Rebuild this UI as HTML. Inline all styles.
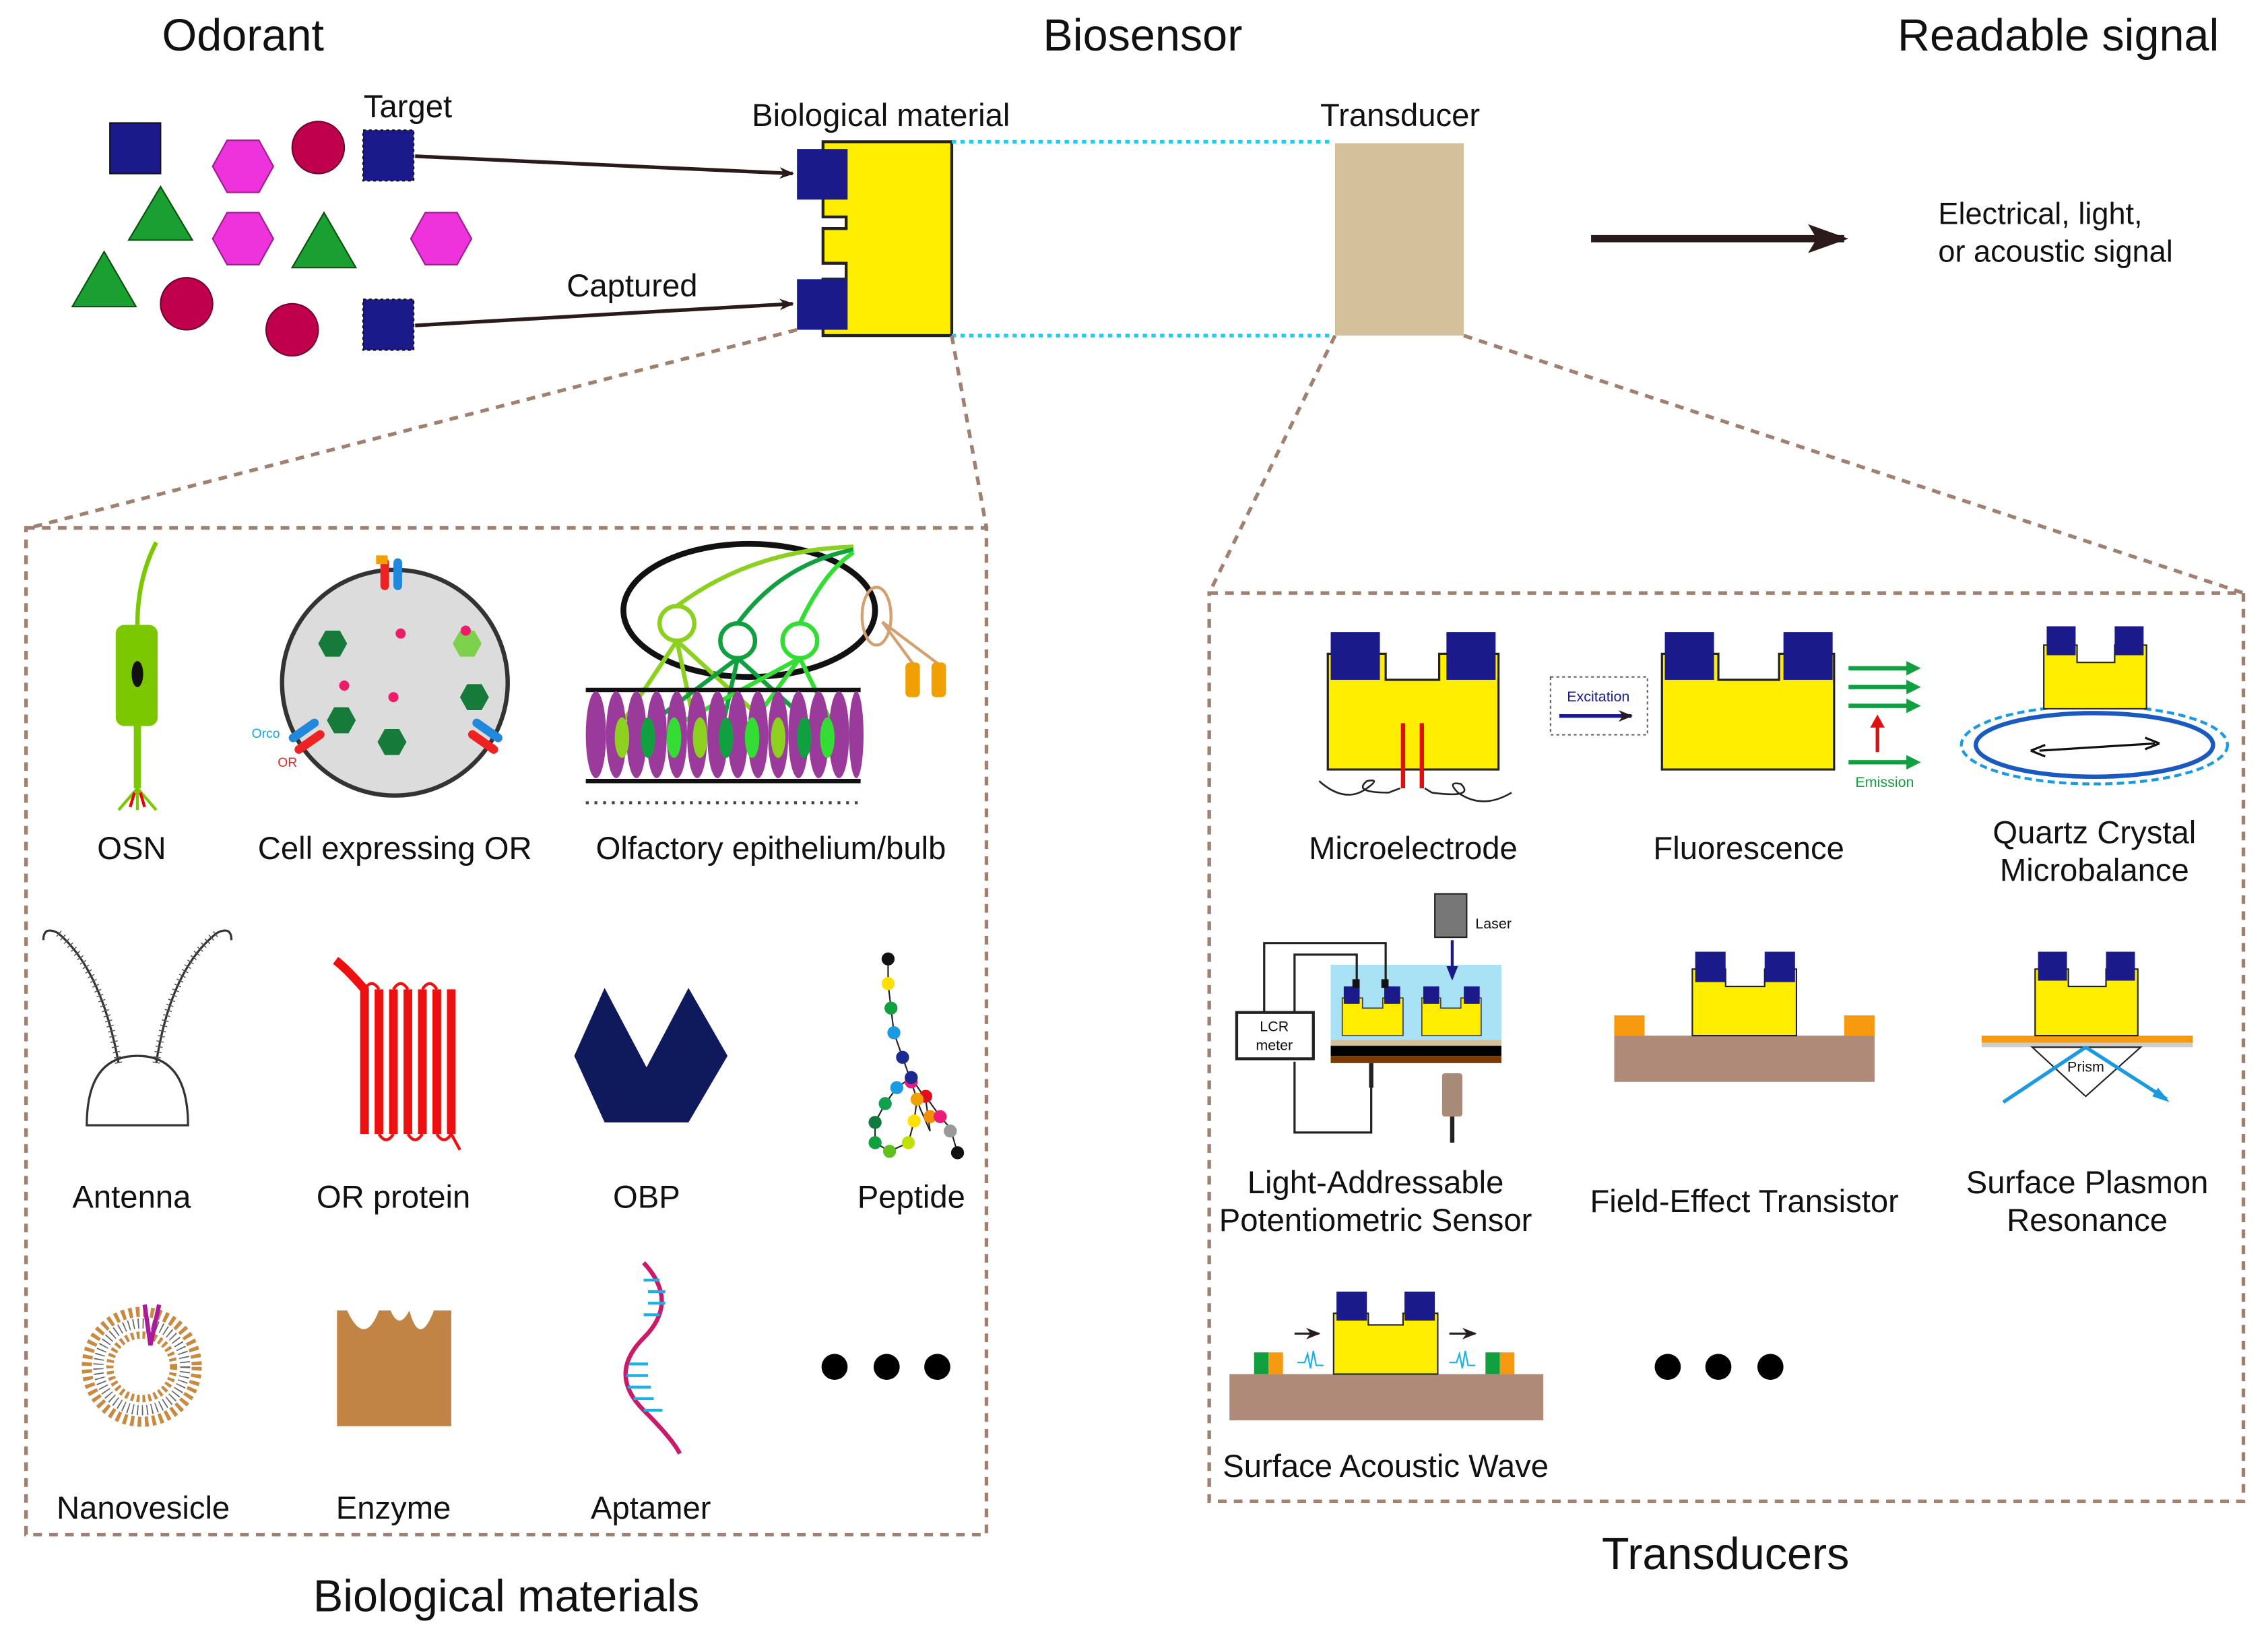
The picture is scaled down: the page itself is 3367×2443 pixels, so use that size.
<!DOCTYPE html>
<html><head><meta charset="utf-8"><style>
html,body{margin:0;padding:0;background:#fff}
svg{display:block}
text{font-family:"Liberation Sans",Arial,sans-serif;fill:#111}
</style></head><body>
<svg width="3367" height="2443" viewBox="0 0 1568 1138" preserveAspectRatio="none" xmlns="http://www.w3.org/2000/svg">
<defs>
<marker id="ah" markerWidth="10" markerHeight="8" refX="9" refY="4" orient="auto" markerUnits="userSpaceOnUse"><path d="M0,0 L10,4 L0,8 L3,4z" fill="#2a1a1a"/></marker>
</defs>
<!-- titles -->
<text x="168" y="35" font-size="31" text-anchor="middle">Odorant</text>
<text x="790" y="35" font-size="31" text-anchor="middle">Biosensor</text>
<text x="1423" y="35" font-size="31" text-anchor="middle">Readable signal</text>

<!-- odorants -->
<rect x="76" y="85" width="35" height="35" fill="#1a1a8a" stroke="#111" stroke-width="1"/>
<polygon points="147,115 157,97 179,97 189,115 179,133 157,133" fill="#ee33dd" stroke="#a01a90"/>
<circle cx="220" cy="102" r="18" fill="#c0004c" stroke="#700030"/>
<rect x="251" y="90" width="35" height="35" fill="#1a1a8a" stroke="#111" stroke-dasharray="2,2"/>
<polygon points="111,129 89,166 133,166" fill="#1aa030" stroke="#0a5010"/>
<polygon points="147,165 157,147 179,147 189,165 179,183 157,183" fill="#ee33dd" stroke="#a01a90"/>
<polygon points="224,147 202,185 246,185" fill="#1aa030" stroke="#0a5010"/>
<polygon points="284,165 294,147 316,147 326,165 316,183 294,183" fill="#ee33dd" stroke="#a01a90"/>
<polygon points="72,174 50,212 94,212" fill="#1aa030" stroke="#0a5010"/>
<circle cx="129" cy="210" r="18" fill="#c0004c" stroke="#700030"/>
<circle cx="202" cy="228" r="18" fill="#c0004c" stroke="#700030"/>
<rect x="251" y="207" width="35" height="35" fill="#1a1a8a" stroke="#111" stroke-dasharray="2,2"/>
<text x="282" y="81" font-size="22" text-anchor="middle">Target</text>
<text x="437" y="205" font-size="22" text-anchor="middle">Captured</text>
<line x1="287" y1="108" x2="548" y2="120" stroke="#2a1a1a" stroke-width="2.5" marker-end="url(#ah)"/>
<line x1="287" y1="225" x2="548" y2="210" stroke="#2a1a1a" stroke-width="2.5" marker-end="url(#ah)"/>

<!-- bio material -->
<text x="609" y="87" font-size="22" text-anchor="middle">Biological material</text>
<path d="M569,98 H658 V232 H569 V193 H585 V182 H569 V158 H585 V150 H569 Z" fill="#ffee00" stroke="#222" stroke-width="2"/>
<rect x="551" y="103" width="35" height="35" fill="#1a1a8a"/>
<rect x="551" y="193" width="35" height="35" fill="#1a1a8a"/>
<line x1="658" y1="98" x2="922" y2="98" stroke="#22ccee" stroke-width="2.5" stroke-dasharray="3,3"/>
<line x1="658" y1="232" x2="922" y2="232" stroke="#22ccee" stroke-width="2.5" stroke-dasharray="3,3"/>
<text x="968" y="87" font-size="22" text-anchor="middle">Transducer</text>
<rect x="923" y="99" width="89" height="133" fill="#d4c09a"/>
<line x1="1100" y1="165" x2="1275" y2="165" stroke="#2a1a1a" stroke-width="5"/>
<polygon points="1250,155 1278,165 1250,175 1256,165" fill="#2a1a1a"/>
<text x="1340" y="155" font-size="21">Electrical, light,</text>
<text x="1340" y="181" font-size="21">or acoustic signal</text>

<!-- dashed connectors -->
<g stroke="#a08070" stroke-width="2.5" stroke-dasharray="6,5" fill="none">
<line x1="551" y1="228" x2="20" y2="365"/>
<line x1="658" y1="232" x2="682" y2="365"/>
<line x1="923" y1="232" x2="836" y2="410"/>
<line x1="1012" y1="232" x2="1551" y2="410"/>
<rect x="18" y="365" width="664" height="696"/>
<rect x="836" y="410" width="715" height="628"/>
</g>
<text x="350" y="1114" font-size="31" text-anchor="middle">Biological materials</text>
<text x="1193" y="1085" font-size="31" text-anchor="middle">Transducers</text>

<!-- OSN -->
<path d="M108,375 Q95,400 95,432" stroke="#7cc800" stroke-width="3" fill="none"/>
<rect x="80" y="432" width="29" height="70" rx="6" fill="#7cc800"/>
<ellipse cx="95" cy="466" rx="4" ry="9" fill="#111"/>
<line x1="95" y1="500" x2="95" y2="545" stroke="#7cc800" stroke-width="5"/>
<path d="M95,545 L82,560 M95,545 L108,560 M95,545 L95,560" stroke="#7cc800" stroke-width="2"/>
<path d="M93,548 L90,558 M97,548 L100,558" stroke="#e00" stroke-width="2"/>
<text x="91" y="594" font-size="22" text-anchor="middle">OSN</text>

<!-- cell expressing OR -->
<circle cx="273" cy="472" r="78" fill="#dcdcdc" stroke="#333" stroke-width="3"/>
<g fill="#157a3a">
<polygon points="220,445 225,436 235,436 240,445 235,454 225,454"/>
<polygon points="226,498 231,489 241,489 246,498 241,507 231,507"/>
<polygon points="261,513 266,504 276,504 281,513 276,522 266,522"/>
<polygon points="318,482 323,473 333,473 338,482 333,491 323,491"/>
</g>
<polygon points="313,445 318,436 328,436 333,445 328,454 318,454" fill="#7cd04c"/>
<g fill="#ee1a6a"><circle cx="277" cy="438" r="3.5"/><circle cx="322" cy="436" r="3.5"/><circle cx="238" cy="474" r="3.5"/><circle cx="272" cy="482" r="3.5"/></g>
<rect x="263" y="386" width="6" height="22" rx="3" fill="#e22"/><rect x="272" y="386" width="6" height="22" rx="3" fill="#2288dd"/>
<rect x="260" y="384" width="8" height="6" fill="#f0a000"/>
<rect x="198" y="502" width="24" height="6" rx="3" fill="#2288dd" transform="rotate(-35 210 505)"/>
<rect x="202" y="510" width="24" height="6" rx="3" fill="#e22" transform="rotate(-35 214 513)"/>
<rect x="325" y="502" width="24" height="6" rx="3" fill="#2288dd" transform="rotate(35 337 505)"/>
<rect x="322" y="510" width="24" height="6" rx="3" fill="#e22" transform="rotate(35 334 513)"/>
<text x="174" y="510" font-size="9" style="fill:#11aadd">Orco</text>
<text x="192" y="530" font-size="9" style="fill:#e22">OR</text>
<text x="273" y="594" font-size="22" text-anchor="middle">Cell expressing OR</text>

<!-- olfactory epithelium -->
<ellipse cx="518" cy="422" rx="87" ry="46" fill="none" stroke="#111" stroke-width="4"/>
<ellipse cx="606" cy="426" rx="10" ry="20" fill="none" stroke="#d4a070" stroke-width="2"/>
<path d="M610,430 L632,460 M610,430 L650,460" stroke="#d4a070" stroke-width="2"/>
<rect x="626" y="458" width="10" height="24" rx="3" fill="#f0a000"/><rect x="644" y="458" width="10" height="24" rx="3" fill="#f0a000"/>
<g fill="none" stroke-width="3">
<circle cx="468" cy="431" r="12" stroke="#8cd020"/><circle cx="510" cy="443" r="12" stroke="#10a040"/><circle cx="553" cy="443" r="12" stroke="#33dd33"/>
<path d="M468,419 Q520,380 590,378" stroke="#8cd020"/><path d="M510,431 Q540,390 590,380" stroke="#10a040"/><path d="M553,431 Q570,395 590,382" stroke="#33dd33"/>
<path d="M468,443 L430,500 M468,443 L480,500 M468,443 L530,500" stroke="#8cd020"/>
<path d="M510,455 L450,500 M510,455 L500,500 M510,455 L560,500" stroke="#10a040"/>
<path d="M553,455 L470,500 M553,455 L520,500 M553,455 L575,500" stroke="#33dd33"/>
</g>
<line x1="405" y1="477" x2="595" y2="477" stroke="#111" stroke-width="3"/>
<line x1="405" y1="540" x2="595" y2="540" stroke="#111" stroke-width="3"/>
<g fill="#9a3a9a">
<ellipse cx="412" cy="508" rx="7" ry="30"/><ellipse cx="426" cy="508" rx="7" ry="30"/><ellipse cx="440" cy="508" rx="7" ry="30"/><ellipse cx="454" cy="508" rx="7" ry="30"/><ellipse cx="468" cy="508" rx="7" ry="30"/><ellipse cx="482" cy="508" rx="7" ry="30"/><ellipse cx="496" cy="508" rx="7" ry="30"/><ellipse cx="510" cy="508" rx="7" ry="30"/><ellipse cx="524" cy="508" rx="7" ry="30"/><ellipse cx="538" cy="508" rx="7" ry="30"/><ellipse cx="552" cy="508" rx="7" ry="30"/><ellipse cx="566" cy="508" rx="7" ry="30"/><ellipse cx="580" cy="508" rx="7" ry="30"/><ellipse cx="592" cy="508" rx="5" ry="30"/>
</g>
<g><ellipse cx="430" cy="510" rx="5" ry="14" fill="#8cd020"/><ellipse cx="448" cy="510" rx="5" ry="14" fill="#10a040"/><ellipse cx="466" cy="510" rx="5" ry="14" fill="#33dd33"/><ellipse cx="484" cy="510" rx="5" ry="14" fill="#8cd020"/><ellipse cx="502" cy="510" rx="5" ry="14" fill="#10a040"/><ellipse cx="520" cy="510" rx="5" ry="14" fill="#33dd33"/><ellipse cx="538" cy="510" rx="5" ry="14" fill="#8cd020"/><ellipse cx="556" cy="510" rx="5" ry="14" fill="#10a040"/><ellipse cx="572" cy="510" rx="5" ry="14" fill="#33dd33"/></g>
<line x1="405" y1="555" x2="595" y2="555" stroke="#444" stroke-width="2" stroke-dasharray="2,4"/>
<text x="533" y="594" font-size="22" text-anchor="middle">Olfactory epithelium/bulb</text>

<!-- antenna -->
<path d="M60,778 Q60,730 95,730 Q130,730 130,778 Z" fill="#fff" stroke="#333" stroke-width="1.5"/>
<path d="M82,735 Q70,670 40,645 Q30,640 30,650 M108,735 Q118,670 150,645 Q160,640 160,650" fill="none" stroke="#333" stroke-width="1.5"/>
<path d="M82,735 Q70,670 40,645 M108,735 Q118,670 150,645" fill="none" stroke="#555" stroke-width="5" stroke-dasharray="0.7,3"/>
<text x="91" y="835" font-size="22" text-anchor="middle">Antenna</text>

<!-- OR protein -->
<g fill="none" stroke="#ee1010" stroke-width="6">
<path d="M232,664 Q240,670 252,684 V784 M262,684 V784 M272,684 V784 M282,684 V784 M292,684 V784 M302,684 V784 M312,684 V784"/>
</g>
<path d="M252,684 Q257,676 262,684 M272,684 Q277,676 282,684 M292,684 Q297,676 302,684 M262,784 Q267,792 272,784 M282,784 Q287,792 292,784 M302,784 Q307,792 312,784 L318,795" fill="none" stroke="#ee1010" stroke-width="2"/>
<text x="272" y="835" font-size="22" text-anchor="middle">OR protein</text>

<!-- OBP -->
<polygon points="418,683 447,738 476,683 503,730 476,776 418,776 397,730" fill="#0f1a5c"/>
<text x="447" y="835" font-size="22" text-anchor="middle">OBP</text>

<!-- peptide -->
<polyline points="614,663 614,680 616,697 618,714 624,731 630,748 636,766 643,782 640,760 630,745 620,752 612,763 605,776 605,790 615,796 628,790 632,775 634,760 640,758 650,772 657,780 662,797" fill="none" stroke="#222" stroke-width="1"/>
<g>
<circle cx="614" cy="663" r="4.5" fill="#111"/><circle cx="614" cy="680" r="4.5" fill="#ffe000"/><circle cx="616" cy="697" r="4.5" fill="#10a040"/><circle cx="618" cy="714" r="4.5" fill="#1a9ae0"/><circle cx="624" cy="731" r="4.5" fill="#1a2a90"/><circle cx="630" cy="748" r="4.5" fill="#ee1a7a"/><circle cx="640" cy="758" r="4.5" fill="#e01020"/><circle cx="643" cy="772" r="4.5" fill="#f09000"/>
<circle cx="630" cy="745" r="4.5" fill="#1a2a90"/><circle cx="620" cy="752" r="4.5" fill="#1a9ae0"/><circle cx="612" cy="763" r="4.5" fill="#10a050"/><circle cx="605" cy="776" r="4.5" fill="#107a40"/><circle cx="605" cy="790" r="4.5" fill="#10a040"/><circle cx="615" cy="796" r="4.5" fill="#60c020"/><circle cx="628" cy="790" r="4.5" fill="#c0e000"/><circle cx="632" cy="775" r="4.5" fill="#ffe000"/><circle cx="634" cy="760" r="4.5" fill="#f0a000"/><circle cx="650" cy="772" r="4.5" fill="#ee1a7a"/><circle cx="657" cy="782" r="4.5" fill="#999"/><circle cx="662" cy="797" r="4.5" fill="#111"/>
</g>
<text x="630" y="835" font-size="22" text-anchor="middle">Peptide</text>

<!-- nanovesicle -->
<circle cx="98" cy="945" r="38" fill="none" stroke="#c88a40" stroke-width="7" stroke-dasharray="2.5,2.5"/>
<circle cx="98" cy="945" r="30" fill="none" stroke="#666" stroke-width="7" stroke-dasharray="0.8,2.5"/>
<circle cx="98" cy="945" r="22" fill="none" stroke="#c88a40" stroke-width="5" stroke-dasharray="2,2"/>
<path d="M100,902 L104,930 L110,902" stroke="#aa1a9a" stroke-width="3" fill="none"/>
<text x="99" y="1050" font-size="22" text-anchor="middle">Nanovesicle</text>

<!-- enzyme -->
<path d="M233,906 H240 Q252,932 262,906 H270 Q276,920 283,906 Q290,932 300,906 H312 V986 H233 Z" fill="#c28444"/>
<text x="272" y="1050" font-size="22" text-anchor="middle">Enzyme</text>

<!-- aptamer -->
<path d="M445,873 Q470,900 445,925 Q420,950 445,975 Q465,995 470,1005" fill="none" stroke="#cc1a6a" stroke-width="3"/>
<g stroke="#1ab0e8" stroke-width="2"><line x1="445" y1="885" x2="456" y2="885"/><line x1="448" y1="893" x2="460" y2="893"/><line x1="448" y1="901" x2="460" y2="901"/><line x1="445" y1="909" x2="456" y2="909"/><line x1="435" y1="943" x2="448" y2="943"/><line x1="433" y1="951" x2="448" y2="951"/><line x1="434" y1="959" x2="450" y2="959"/><line x1="438" y1="967" x2="452" y2="967"/><line x1="445" y1="975" x2="458" y2="975"/></g>
<text x="450" y="1050" font-size="22" text-anchor="middle">Aptamer</text>
<g fill="#000"><circle cx="577" cy="945" r="9"/><circle cx="613" cy="945" r="9"/><circle cx="648" cy="945" r="9"/></g>

<!-- Microelectrode -->
<path d="M918,452 H958 V470 H995 V452 H1036 V532 H918 Z" fill="#ffee00" stroke="#222" stroke-width="1.5"/>
<rect x="920" y="437" width="34" height="33" fill="#1a1a8a"/><rect x="1000" y="437" width="34" height="33" fill="#1a1a8a"/>
<line x1="970" y1="500" x2="970" y2="545" stroke="#e01010" stroke-width="3"/><line x1="983" y1="500" x2="983" y2="545" stroke="#e01010" stroke-width="3"/>
<path d="M912,540 Q930,556 945,545 Q955,538 945,540 Q935,548 960,548 L968,545 M1045,548 Q1025,560 1008,548 Q1000,540 1010,542 Q1020,552 990,548 L985,545" fill="none" stroke="#222" stroke-width="1.2"/>
<text x="977" y="594" font-size="22" text-anchor="middle">Microelectrode</text>

<!-- Fluorescence -->
<rect x="1072" y="468" width="67" height="40" fill="none" stroke="#666" stroke-dasharray="2,2"/>
<text x="1105" y="485" font-size="10" text-anchor="middle" style="fill:#1a1a8a">Excitation</text>
<line x1="1078" y1="495" x2="1128" y2="495" stroke="#1a1a8a" stroke-width="2.5" marker-end="url(#ah)"/>
<path d="M1149,452 H1188 V470 H1230 V452 H1268 V532 H1149 Z" fill="#ffee00" stroke="#222" stroke-width="1.5"/>
<rect x="1151" y="437" width="34" height="33" fill="#1a1a8a"/><rect x="1233" y="437" width="34" height="33" fill="#1a1a8a"/>
<g stroke="#10a040" stroke-width="3"><line x1="1278" y1="462" x2="1322" y2="462"/><line x1="1278" y1="475" x2="1322" y2="475"/><line x1="1278" y1="488" x2="1322" y2="488"/><line x1="1278" y1="527" x2="1322" y2="527"/></g>
<g fill="#10a040"><polygon points="1318,457 1328,462 1318,467"/><polygon points="1318,470 1328,475 1318,480"/><polygon points="1318,483 1328,488 1318,493"/><polygon points="1318,522 1328,527 1318,532"/></g>
<line x1="1298" y1="520" x2="1298" y2="500" stroke="#e01010" stroke-width="2.5"/><polygon points="1293,503 1298,494 1303,503" fill="#e01010"/>
<text x="1303" y="544" font-size="10" text-anchor="middle" style="fill:#10a040">Emission</text>
<text x="1209" y="594" font-size="22" text-anchor="middle">Fluorescence</text>

<!-- QCM -->
<ellipse cx="1448" cy="515" rx="92" ry="27" fill="none" stroke="#1a9ae0" stroke-width="2" stroke-dasharray="5,3"/>
<ellipse cx="1448" cy="515" rx="82" ry="22" fill="none" stroke="#1a5ac0" stroke-width="3"/>
<line x1="1410" y1="519" x2="1490" y2="514" stroke="#111" stroke-width="1.5"/>
<path d="M1404,519 L1414,515 M1404,519 L1414,523 M1493,514 L1483,510 M1493,514 L1483,518" stroke="#111" stroke-width="1.5"/>
<path d="M1413,446 H1436 V458 H1462 V446 H1484 V490 H1413 Z" fill="#ffee00" stroke="#222"/>
<rect x="1415" y="433" width="20" height="20" fill="#1a1a8a"/><rect x="1462" y="433" width="20" height="20" fill="#1a1a8a"/>
<text x="1448" y="583" font-size="22" text-anchor="middle">Quartz Crystal</text>
<text x="1448" y="609" font-size="22" text-anchor="middle">Microbalance</text>

<!-- LAPS -->
<rect x="920" y="667" width="118" height="55" fill="#a8e2f4"/>
<path d="M928,690 H942 V697 H956 V690 H970 V716 H928 Z" fill="#ffee00" stroke="#444" stroke-width="0.8"/>
<path d="M983,690 H996 V697 H1010 V690 H1024 V716 H983 Z" fill="#ffee00" stroke="#444" stroke-width="0.8"/>
<g fill="#1a1a8a"><rect x="929" y="682" width="11" height="12"/><rect x="957" y="682" width="11" height="12"/><rect x="984" y="682" width="11" height="12"/><rect x="1012" y="682" width="11" height="12"/></g>
<rect x="920" y="719" width="118" height="4" fill="#d4c09a"/><rect x="920" y="723" width="118" height="7" fill="#000"/><rect x="920" y="730" width="118" height="5" fill="#7a3a00"/>
<rect x="992" y="618" width="22" height="30" fill="#777" stroke="#222"/>
<line x1="1004" y1="650" x2="1004" y2="676" stroke="#1a1a8a" stroke-width="2"/><polygon points="1000,668 1004,678 1008,668" fill="#1a1a8a"/>
<text x="1020" y="642" font-size="10">Laser</text>
<path d="M874,700 V652 H958 V680 M895,700 V660 H938 V680 M895,734 V783 H948 V735" fill="none" stroke="#222" stroke-width="1.5"/>
<rect x="935" y="677" width="5" height="6" fill="#111"/><rect x="955" y="677" width="5" height="6" fill="#111"/>
<rect x="855" y="700" width="53" height="32" fill="#fff" stroke="#222" stroke-width="2"/>
<text x="881" y="713" font-size="10" text-anchor="middle">LCR</text><text x="881" y="726" font-size="10" text-anchor="middle">meter</text>
<line x1="948" y1="735" x2="948" y2="752" stroke="#222" stroke-width="3"/>
<rect x="997" y="742" width="14" height="30" rx="2" fill="#a88a78"/><line x1="1004" y1="772" x2="1004" y2="790" stroke="#222" stroke-width="3"/>
<text x="951" y="825" font-size="22" text-anchor="middle">Light-Addressable</text>
<text x="951" y="851" font-size="22" text-anchor="middle">Potentiometric Sensor</text>

<!-- FET -->
<rect x="1116" y="716" width="180" height="32" fill="#b08a78"/>
<rect x="1116" y="702" width="21" height="14" fill="#f89a10"/><rect x="1275" y="702" width="21" height="14" fill="#f89a10"/>
<path d="M1170,670 H1193 V682 H1220 V670 H1242 V716 H1170 Z" fill="#ffee00" stroke="#222"/>
<rect x="1172" y="658" width="21" height="21" fill="#1a1a8a"/><rect x="1220" y="658" width="21" height="21" fill="#1a1a8a"/>
<text x="1206" y="838" font-size="22" text-anchor="middle">Field-Effect Transistor</text>

<!-- SPR -->
<rect x="1370" y="716" width="146" height="5" fill="#f89a10"/><rect x="1370" y="721" width="146" height="3" fill="#ccc"/>
<polygon points="1405,724 1480,724 1442,758" fill="#fff" stroke="#222"/>
<text x="1442" y="741" font-size="10" text-anchor="middle">Prism</text>
<line x1="1385" y1="762" x2="1442" y2="724" stroke="#1a9ae0" stroke-width="2.5"/>
<line x1="1442" y1="724" x2="1498" y2="760" stroke="#1a9ae0" stroke-width="2.5"/><polygon points="1492,752 1500,762 1488,758" fill="#1a9ae0"/>
<path d="M1407,670 H1430 V682 H1456 V670 H1478 V716 H1407 Z" fill="#ffee00" stroke="#222"/>
<rect x="1409" y="658" width="20" height="20" fill="#1a1a8a"/><rect x="1456" y="658" width="20" height="20" fill="#1a1a8a"/>
<text x="1443" y="825" font-size="22" text-anchor="middle">Surface Plasmon</text>
<text x="1443" y="851" font-size="22" text-anchor="middle">Resonance</text>

<!-- SAW -->
<rect x="850" y="950" width="217" height="32" fill="#b08a78"/>
<rect x="867" y="935" width="10" height="15" fill="#10a040"/><rect x="877" y="935" width="10" height="15" fill="#f89a10"/>
<rect x="1027" y="935" width="10" height="15" fill="#10a040"/><rect x="1037" y="935" width="10" height="15" fill="#f89a10"/>
<path d="M922,908 H946 V916 H970 V908 H994 V950 H922 Z" fill="#ffee00" stroke="#222"/>
<rect x="924" y="893" width="21" height="20" fill="#1a1a8a"/><rect x="971" y="893" width="21" height="20" fill="#1a1a8a"/>
<line x1="895" y1="922" x2="912" y2="922" stroke="#222" stroke-width="1.5" marker-end="url(#ah)"/>
<line x1="1002" y1="922" x2="1020" y2="922" stroke="#222" stroke-width="1.5" marker-end="url(#ah)"/>
<path d="M897,942 H902 L904,936 L906,946 L908,934 L910,944 H915 M1002,942 H1007 L1009,936 L1011,946 L1013,934 L1015,944 H1020" fill="none" stroke="#1ab0e8" stroke-width="1"/>
<text x="958" y="1021" font-size="22" text-anchor="middle">Surface Acoustic Wave</text>
<g fill="#000"><circle cx="1153" cy="945" r="9"/><circle cx="1188" cy="945" r="9"/><circle cx="1224" cy="945" r="9"/></g>
</svg>
</body></html>
